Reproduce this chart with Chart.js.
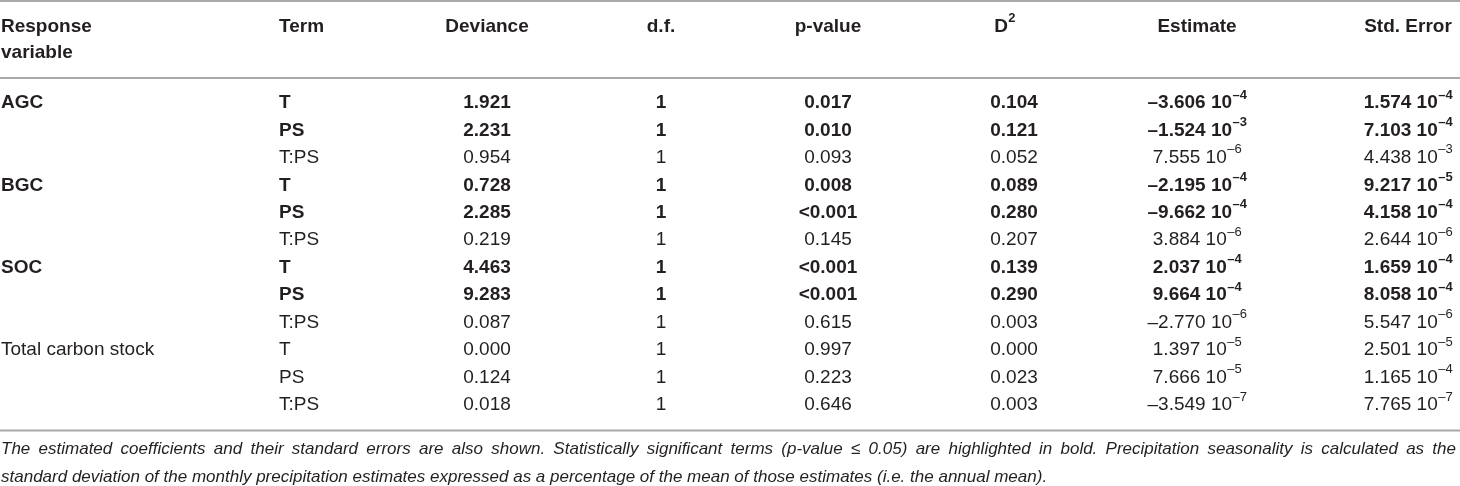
<!DOCTYPE html>
<html>
<head>
<meta charset="utf-8">
<script src="https://cdn.jsdelivr.net/npm/chart.js@4.4.1/dist/chart.umd.min.js"></script>
<style>
  html, body { margin: 0; padding: 0; background: #fff; }
  #wrap { width: 1460px; height: 486px; }
</style>
</head>
<body>
<div id="wrap"><canvas id="table" width="1460" height="486"></canvas></div>
<script>
// table values
const responseVars = ['AGC', 'BGC', 'SOC', 'Total carbon stock'];
const terms = ['T', 'PS', 'T:PS'];
const deviance = [1.921, 2.231, 0.954, 0.728, 2.285, 0.219, 4.463, 9.283, 0.087, 0.000, 0.124, 0.018];
const degFree = [1, 1, 1, 1, 1, 1, 1, 1, 1, 1, 1, 1];
const pValues = ['0.017', '0.010', '0.093', '0.008', '<0.001', '0.145', '<0.001', '<0.001', '0.615', '0.997', '0.223', '0.646'];
const dSquared = [0.104, 0.121, 0.052, 0.089, 0.280, 0.207, 0.139, 0.290, 0.003, 0.000, 0.023, 0.003];
const estMantissa = [-3.606, -1.524, 7.555, -2.195, -9.662, 3.884, 2.037, 9.664, -2.770, 1.397, 7.666, -3.549];
const estExponent = [-4, -3, -6, -4, -4, -6, -4, -4, -6, -5, -5, -7];
const seMantissa = [1.574, 7.103, 4.438, 9.217, 4.158, 2.644, 1.659, 8.058, 5.547, 2.501, 1.165, 7.765];
const seExponent = [-4, -4, -3, -5, -4, -6, -4, -4, -6, -5, -4, -7];
const headers = ['Term', 'Deviance', 'd.f.', 'p-value', 'D', 'Estimate', 'Std. Error'];
const footnote = [
    'The estimated coefficients and their standard errors are also shown. Statistically significant terms (p-value \u2264 0.05) are highlighted in bold. Precipitation seasonality is calculated as the',
    'standard deviation of the monthly precipitation estimates expressed as a percentage of the mean of those estimates (i.e. the annual mean).'
];

// layout (x in layout units, y in row units)
const colX = { resp: 1, term: 279, dev: 487, df: 661, p: 828, d2: 1014, d2Head: 1001, est: 1197, se: 1408 };
const rightEdge = 1456;
const FONT = '"Liberation Sans", Arial, Helvetica, sans-serif';
const INK = '#231f20';

const isBold = pValues.map(p => parseFloat(p.replace('<', '')) <= 0.05);
const dash = v => (v < 0 ? '\u2013' : '') + Math.abs(v).toFixed(3);

function sci(ctx, mant, exp, cx, y, bold) {
    const w = bold ? 'bold ' : '';
    const main = dash(mant) + ' 10';
    const sup = '\u2013' + Math.abs(exp);
    ctx.font = w + '19px ' + FONT;
    const w1 = ctx.measureText(main).width;
    ctx.font = w + '13px ' + FONT;
    const w2 = ctx.measureText(sup).width;
    const x0 = cx - (w1 + w2) / 2;
    ctx.textAlign = 'left';
    ctx.font = w + '19px ' + FONT;
    ctx.fillText(main, x0, y);
    ctx.font = w + '13px ' + FONT;
    ctx.fillText(sup, x0 + w1 + 0.5, y - 8);
}

function rule(ctx, x, y, yv) {
    ctx.beginPath();
    ctx.moveTo(x.left, y.getPixelForValue(yv));
    ctx.lineTo(x.right, y.getPixelForValue(yv));
    ctx.stroke();
}

const tablePlugin = {
    id: 'tableText',
    afterDraw(chart) {
        const ctx = chart.ctx;
        const x = chart.scales.x;
        const y = chart.scales.y;
        const px = v => x.getPixelForValue(v);
        ctx.save();

        // rules
        ctx.strokeStyle = '#a9a9a9';
        ctx.lineWidth = 2;
        rule(ctx, x, y, -3.72);
        rule(ctx, x, y, -0.91);
        rule(ctx, x, y, 11.93);

        ctx.fillStyle = INK;
        ctx.textBaseline = 'middle';

        // header
        const hy = y.getPixelForValue(-2.78);
        ctx.font = 'bold 19px ' + FONT;
        ctx.textAlign = 'left';
        ctx.fillText('Response', px(colX.resp), hy);
        ctx.fillText('variable', px(colX.resp), y.getPixelForValue(-1.84));
        ctx.fillText(headers[0], px(colX.term), hy);
        ctx.textAlign = 'center';
        ctx.fillText(headers[1], px(colX.dev), hy);
        ctx.fillText(headers[2], px(colX.df), hy);
        ctx.fillText(headers[3], px(colX.p), hy);
        ctx.fillText(headers[5], px(colX.est), hy);
        ctx.fillText(headers[6], px(colX.se), hy);
        ctx.textAlign = 'left';
        const dw = ctx.measureText(headers[4]).width;
        ctx.fillText(headers[4], px(colX.d2Head) - dw / 2, hy);
        ctx.font = 'bold 13px ' + FONT;
        ctx.fillText('2', px(colX.d2Head) + dw / 2 + 0.5, hy - 8);

        // body
        deviance.forEach((dev, i) => {
            const ry = y.getPixelForValue(i);
            const b = isBold[i] ? 'bold ' : '';
            if (i % terms.length === 0) {
                const grp = i / terms.length;
                const grpBold = isBold.slice(i, i + terms.length).some(Boolean);
                ctx.font = (grpBold ? 'bold ' : '') + '19px ' + FONT;
                ctx.textAlign = 'left';
                ctx.fillText(responseVars[grp], px(colX.resp), ry);
            }
            ctx.font = b + '19px ' + FONT;
            ctx.textAlign = 'left';
            ctx.fillText(terms[i % terms.length], px(colX.term), ry);
            ctx.textAlign = 'center';
            ctx.fillText(dev.toFixed(3), px(colX.dev), ry);
            ctx.fillText(String(degFree[i]), px(colX.df), ry);
            ctx.fillText(pValues[i], px(colX.p), ry);
            ctx.fillText(dSquared[i].toFixed(3), px(colX.d2), ry);
            sci(ctx, estMantissa[i], estExponent[i], px(colX.est), ry, isBold[i]);
            sci(ctx, seMantissa[i], seExponent[i], px(colX.se), ry, isBold[i]);
        });

        // footnote, first line justified
        ctx.font = 'italic 17px ' + FONT;
        ctx.textAlign = 'left';
        const words = footnote[0].split(' ');
        const wordsW = words.reduce((s, w) => s + ctx.measureText(w).width, 0);
        const gap = Math.max(ctx.measureText(' ').width,
            (px(rightEdge) - px(colX.resp) - wordsW) / (words.length - 1));
        let cx = px(colX.resp);
        const fy1 = y.getPixelForValue(12.6);
        words.forEach(w => {
            ctx.fillText(w, cx, fy1);
            cx += ctx.measureText(w).width + gap;
        });
        ctx.fillText(footnote[1], px(colX.resp), y.getPixelForValue(13.65));
        ctx.restore();
    }
};

new Chart(document.getElementById('table'), {
    type: 'scatter',
    data: { datasets: [] },
    options: {
        responsive: false,
        animation: false,
        layout: { padding: 0 },
        plugins: { legend: { display: false }, tooltip: { enabled: false } },
        scales: {
            x: { type: 'linear', min: 0, max: 1460, display: false },
            y: { type: 'linear', min: -3.752, max: 13.953, reverse: true, display: false }
        }
    },
    plugins: [tablePlugin]
});
</script>
</body>
</html>
